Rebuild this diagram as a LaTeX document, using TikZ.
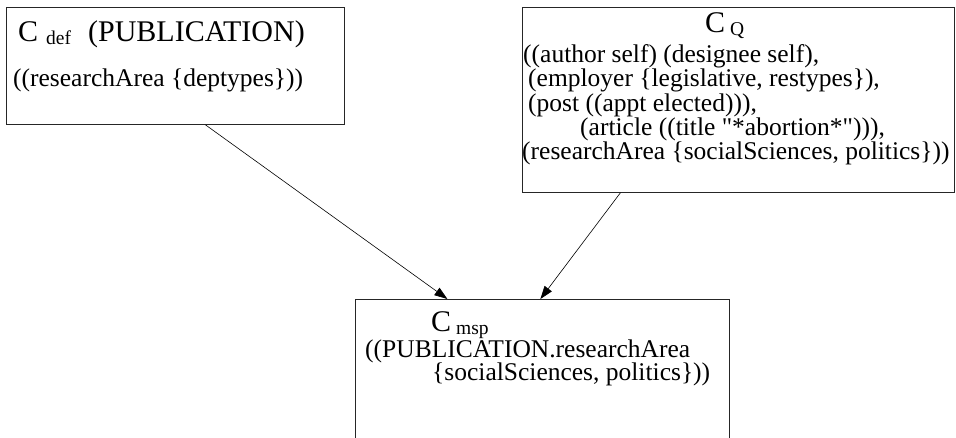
\documentclass[tikz,border=0pt]{standalone}
\usepackage{fontspec}
\setmainfont{Liberation Serif}[Ligatures=TeXOff]
\usetikzlibrary{arrows.meta}
\newcommand{\bigC}{{\fontsize{30}{30}\selectfont C}}
\newcommand{\lowsub}[1]{\raisebox{-3pt}{\fontsize{19.5}{19.5}\selectfont #1}}
\tikzset{
  frame/.style={draw=black!85, line width=0.8pt, anchor=north west, inner sep=0pt},
  txt/.style={anchor=base west, inner sep=0pt, font=\fontsize{25.5}{25.5}\selectfont},
  link/.style={-{Triangle[length=13pt,width=9pt]}, line width=0.6pt}
}
\begin{document}
\begin{tikzpicture}[x=1pt,y=1pt]
    \path[use as bounding box, clip] (0,0) rectangle (956,-438);
    % the three boxes
    \node[frame, minimum width=338pt, minimum height=117pt] (def) at (6,-7) {};
    \node[frame, minimum width=432pt, minimum height=185pt] (q) at (522,-7) {};
    \node[frame, minimum width=374pt, minimum height=160pt] (msp) at (355,-299) {};
    % C_def
    \node[txt] (deftitle) at (18,-42) {\bigC\hspace{8pt}\lowsub{def}\hspace{17pt}{\fontsize{30}{30}\selectfont(PUBLICATION)}};
    \node[txt] (defline) at (13,-87) {((researchArea \{deptypes\}))};
    % C_Q
    \node[txt] (qtitle) at (705,-33) {\bigC\hspace{5pt}\lowsub{Q}};
    \node[txt] (qline1) at (523,-63) {((author self) (designee self),};
    \node[txt] (qline2) at (528,-87) {(employer \{legislative, restypes\}),};
    \node[txt] (qline3) at (528,-112) {(post ((appt elected))),};
    \node[txt] (qline4) at (580,-136) {(article ((title "*abortion*"))),};
    \node[txt] (qline5) at (522,-160) {(researchArea \{socialSciences, politics\}))};
    % C_msp
    \node[txt] (msptitle) at (431,-331) {\bigC\hspace{5pt}\lowsub{msp}};
    \node[txt] (mspline1) at (365,-357) {((PUBLICATION.researchArea};
    \node[txt] (mspline2) at (432,-381) {\{socialSciences, politics\}))};
    % arrows
    \draw[link] ([xshift=30pt]def.south) -- ([xshift=-95pt]msp.north);
    \draw[link] ([xshift=-118pt]q.south) -- ([xshift=-2pt]msp.north);
\end{tikzpicture}
\end{document}
